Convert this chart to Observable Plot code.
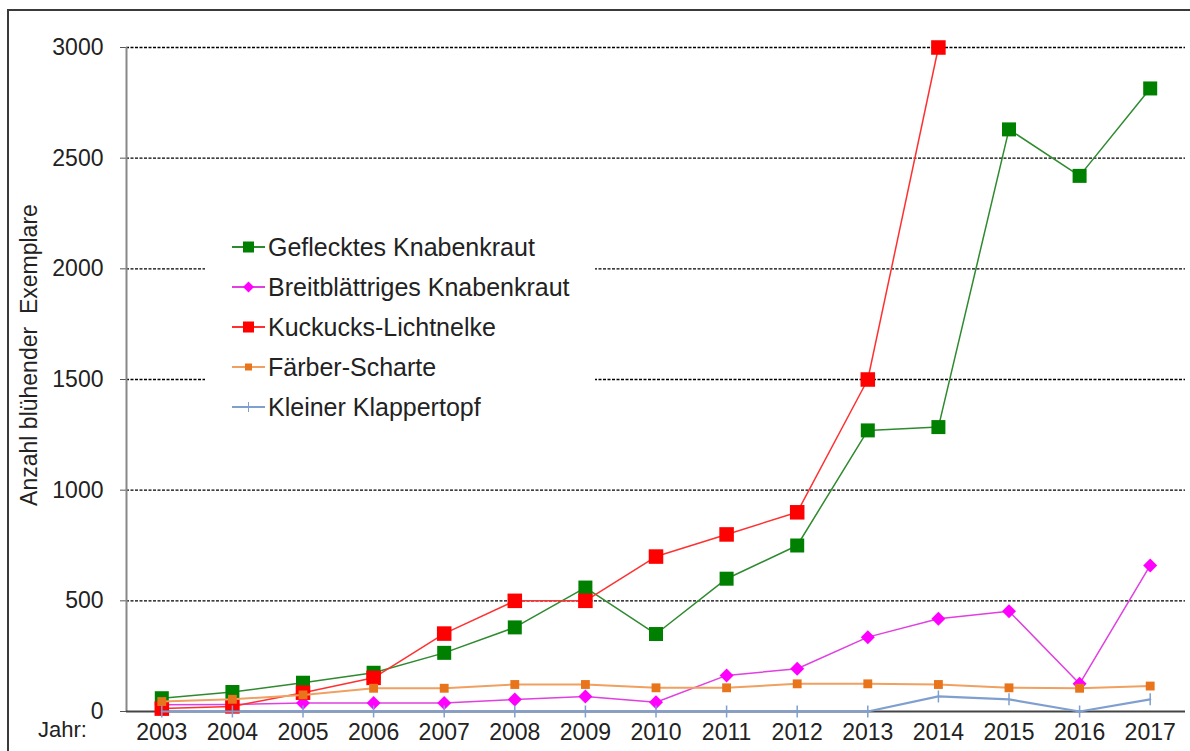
<!DOCTYPE html>
<html>
<head>
<meta charset="utf-8">
<script src="https://cdn.jsdelivr.net/npm/d3@7"></script>
<script src="https://cdn.jsdelivr.net/npm/@observablehq/plot@0.6"></script>
<style>
  body { margin: 0; background: #fff; font-family: "Liberation Sans", Arial, sans-serif; }
  #wrap { position: relative; width: 1190px; height: 751px; overflow: hidden; background: #fff; }
  #border { position: absolute; left: 7px; top: 9px; width: 1300px; height: 900px; border: 2px solid #3a3a3a; box-sizing: border-box; }
  #chart { position: absolute; left: 0; top: 0; }
  #ylabel { position: absolute; left: 29px; top: 355px; transform: translate(-50%, -50%) rotate(-90deg); white-space: pre; font-size: 23px; color: #222; }
  #jahr { position: absolute; left: 38px; top: 717px; font-size: 22px; color: #222; }
  #legend { position: absolute; left: 205px; top: 224px; width: 390px; height: 204px; background: #fff; }
  .row { position: absolute; left: 27px; height: 30px; display: flex; align-items: center; font-size: 25px; color: #222; white-space: nowrap; }
  .row svg { margin-right: 3px; }
</style>
</head>
<body>
<div id="wrap">
  <div id="border"></div>
  <div id="chart"></div>
  <div id="ylabel">Anzahl blühender  Exemplare</div>
  <div id="jahr">Jahr:</div>
  <div id="legend"></div>
</div>
<script>
const years = [2003, 2004, 2005, 2006, 2007, 2008, 2009, 2010, 2011, 2012, 2013, 2014, 2015, 2016, 2017];
const geflecktes = [60, 88, 130, 175, 265, 380, 560, 350, 600, 750, 1270, 1285, 2630, 2420, 2815];
const breitblaettriges = [30, 32, 38, 38, 38, 54, 68, 42, 163, 193, 336, 419, 453, 125, 660];
const kuckucks = [13, 23, 85, 152, 352, 500, 500, 700, 800, 900, 1500, 3000, null, null, null];
const faerber = [45, 55, 75, 105, 105, 122, 122, 107, 107, 125, 125, 122, 107, 105, 115];
const klappertopf = [0, 0, 0, 0, 0, 0, 0, 0, 0, 0, 0, 68, 55, 0, 55];
const yTicks = [0, 500, 1000, 1500, 2000, 2500, 3000];
const seriesNames = ["Geflecktes Knabenkraut", "Breitblättriges Knabenkraut", "Kuckucks-Lichtnelke", "Färber-Scharte", "Kleiner Klappertopf"];
const lineColors = ["#2f8a2f", "#e040e0", "#ff3030", "#f0a060", "#7f9fcf"];
const markColors = ["#008000", "#ff00ff", "#ff0000", "#e8741c", "#7f9fcf"];

const tickSymbol = {
  draw(ctx, size) {
    const r = Math.sqrt(size / Math.PI);
    ctx.moveTo(0, -r);
    ctx.lineTo(0, r);
  }
};

const seriesValues = [geflecktes, breitblaettriges, kuckucks, faerber, klappertopf];
const symbols = ["square", "diamond2", "square", "square", tickSymbol];
const radii = [7.9, 6.3, 8.2, 5.0, 6];
const lineWidths = [1.5, 1.5, 1.5, 2, 2.2];

const marginLeft = 126, marginRight = 5, width = 1190;
const halfStep = (width - marginLeft - marginRight) / years.length / 2;

const marks = [
  Plot.gridY(yTicks.filter(d => d > 0), {stroke: "#000", strokeOpacity: 1, strokeWidth: 1.3, strokeDasharray: "3,1.5"}),
  Plot.axisY(yTicks, {tickSize: 6, tickPadding: 17, fontSize: 23, label: null, stroke: "#555", fill: "#222", tickFormat: d => String(d)}),
  Plot.axisX(years, {tickSize: 0, tickPadding: 12, fontSize: 23, label: null, fill: "#222", tickFormat: d => String(d)}),
  Plot.ruleX([years[0]], {dx: -halfStep, stroke: "#888", strokeWidth: 2}),
  Plot.ruleY([0], {stroke: "#444", strokeWidth: 2.2})
];

seriesValues.forEach((vals, i) => {
  const rows = years.map((y, j) => ({year: y, value: vals[j]}));
  const present = rows.filter(r => r.value != null);
  marks.push(Plot.line(rows, {x: "year", y: "value", stroke: lineColors[i], strokeWidth: lineWidths[i]}));
  if (i === 4) {
    marks.push(Plot.dot(present, {x: "year", y: "value", symbol: symbols[i], r: radii[i], stroke: markColors[i], strokeWidth: 1.5, fill: "none"}));
  } else {
    marks.push(Plot.dot(present, {x: "year", y: "value", symbol: symbols[i], r: radii[i], fill: markColors[i], stroke: "none"}));
  }
});

const chart = Plot.plot({
  width,
  height: 751,
  marginLeft,
  marginRight,
  marginTop: 47,
  marginBottom: 40,
  style: {fontFamily: "Liberation Sans, Arial, sans-serif", background: "transparent", color: "#222"},
  x: {type: "point", domain: years, padding: 0.5, round: false, axis: null},
  y: {domain: [0, 3000], axis: null},
  marks
});
document.getElementById("chart").appendChild(chart);

// Legend
const legend = document.getElementById("legend");
const legendSym = ["sq", "dia", "sq", "sqs", "tick"];
seriesNames.forEach((name, i) => {
  const row = document.createElement("div");
  row.className = "row";
  row.style.top = (8 + i * 40) + "px";
  let marker = "";
  if (legendSym[i] === "sq") marker = `<rect x="11" y="6.5" width="11" height="11" fill="${markColors[i]}"/>`;
  if (legendSym[i] === "sqs") marker = `<rect x="13" y="8.5" width="7" height="7" fill="${markColors[i]}"/>`;
  if (legendSym[i] === "dia") marker = `<path d="M16.5,6.5 L22,12 L16.5,17.5 L11,12 Z" fill="${markColors[i]}"/>`;
  if (legendSym[i] === "tick") marker = `<line x1="16.5" y1="7" x2="16.5" y2="17" stroke="${markColors[i]}" stroke-width="1"/>`;
  row.innerHTML = `<svg width="33" height="24"><line x1="0" y1="12" x2="33" y2="12" stroke="${lineColors[i]}" stroke-width="1.8"/>${marker}</svg><span>${name}</span>`;
  legend.appendChild(row);
});
</script>
</body>
</html>
